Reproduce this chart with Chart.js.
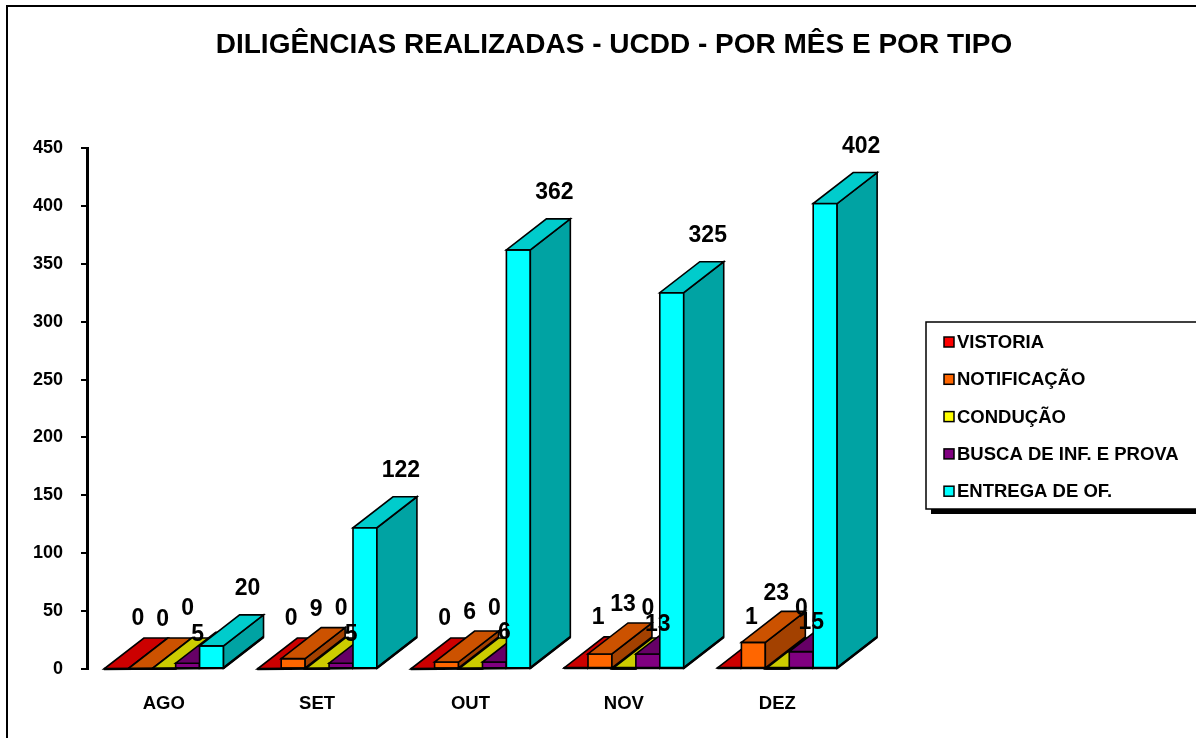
<!DOCTYPE html>
<html>
<head>
<meta charset="utf-8">
<script src="https://cdn.jsdelivr.net/npm/chart.js@4/dist/chart.umd.min.js"></script>
<style>
  html, body { margin: 0; padding: 0; background: #ffffff; }
  #wrap { width: 1196px; height: 738px; position: relative; }
</style>
</head>
<body>
<div id="wrap"><canvas id="c" width="1196" height="738"></canvas></div>
<script>
// ---- data ----
const categories = ['AGO', 'SET', 'OUT', 'NOV', 'DEZ'];
const seriesNames = ['VISTORIA', 'NOTIFICAÇÃO', 'CONDUÇÃO', 'BUSCA DE INF. E PROVA', 'ENTREGA DE OF.'];
const vistoria = [0, 0, 0, 1, 1];
const notificacao = [0, 9, 6, 13, 23];
const conducao = [0, 0, 0, 0, 0];
const busca = [5, 5, 6, 13, 15];
const entrega = [20, 122, 362, 325, 402];
const yMin = 0, yMax = 450, yStep = 50;
const titleText = 'DILIGÊNCIAS REALIZADAS - UCDD - POR MÊS E POR TIPO';

// ---- styles ----
const FONT = "'Liberation Sans', Arial, Helvetica, sans-serif";
const styles = [
  { front: '#FF0000', top: '#CC0000', side: '#990000', lab: [22, -50] },
  { front: '#FF6600', top: '#CC5200', side: '#A34100', lab: [23, -49] },
  { front: '#FFFF00', top: '#CCCC00', side: '#999900', lab: [24, -60] },
  { front: '#800080', top: '#660066', side: '#4D004D', lab: [10, -29] },
  { front: '#00FFFF', top: '#00CCCC', side: '#00A3A3', lab: [36, -57] }
];
const seriesValues = [vistoria, notificacao, conducao, busca, entrega];
const DX = 40, DY = -31;

const datasets = seriesNames.map((name, i) => ({
  label: name,
  data: seriesValues[i],
  backgroundColor: styles[i].front,
  borderColor: '#000000',
  borderWidth: 0,
  yAxisID: 'y'
}));

const frame = {
  id: 'frame',
  beforeDraw(chart) {
    const ctx = chart.ctx;
    ctx.save();
    ctx.fillStyle = '#ffffff';
    ctx.fillRect(0, 0, chart.width, chart.height);
    ctx.strokeStyle = '#000000';
    ctx.lineWidth = 2;
    ctx.strokeRect(7, 6, chart.width + 50, chart.height + 50);
    ctx.restore();
  }
};

const bars3d = {
  id: 'bars3d',
  beforeDatasetDraw() { return false; },
  afterDatasetsDraw(chart) {
    const ctx = chart.ctx;
    ctx.save();
    ctx.lineJoin = 'miter';
    ctx.strokeStyle = '#000000';
    ctx.lineWidth = 1.6;
    const n = chart.data.labels.length;
    for (let j = 0; j < n; j++) {
      chart.data.datasets.forEach((ds, i) => {
        const el = chart.getDatasetMeta(i).data[j];
        const st = styles[i];
        const w = el.width, l = el.x - w / 2, r = el.x + w / 2;
        const t = el.y, b = el.base;
        ctx.fillStyle = st.front;
        ctx.beginPath();
        ctx.rect(l, t, w, b - t);
        ctx.fill(); ctx.stroke();
        ctx.fillStyle = st.side;
        ctx.beginPath();
        ctx.moveTo(r, t); ctx.lineTo(r + DX, t + DY); ctx.lineTo(r + DX, b + DY); ctx.lineTo(r, b); ctx.closePath();
        ctx.fill(); ctx.stroke();
        ctx.fillStyle = st.top;
        ctx.beginPath();
        ctx.moveTo(l, t); ctx.lineTo(r, t); ctx.lineTo(r + DX, t + DY); ctx.lineTo(l + DX, t + DY); ctx.closePath();
        ctx.fill(); ctx.stroke();
      });
      const first = chart.getDatasetMeta(0).data[j];
      const last = chart.getDatasetMeta(chart.data.datasets.length - 1).data[j];
      ctx.lineWidth = 2.5;
      ctx.beginPath();
      ctx.moveTo(first.x - first.width / 2, first.base);
      ctx.lineTo(last.x + last.width / 2, last.base);
      ctx.lineTo(last.x + last.width / 2 + DX, last.base + DY);
      ctx.stroke();
      ctx.lineWidth = 1.6;
    }
    ctx.fillStyle = '#000000';
    ctx.font = 'bold 23px ' + FONT;
    ctx.textAlign = 'center';
    ctx.textBaseline = 'middle';
    chart.data.datasets.forEach((ds, i) => {
      chart.getDatasetMeta(i).data.forEach((el, j) => {
        ctx.fillText(String(ds.data[j]), el.x + styles[i].lab[0], el.y + styles[i].lab[1]);
      });
    });
    ctx.restore();
  }
};

const boxLegend = {
  id: 'boxLegend',
  afterDraw(chart) {
    const ctx = chart.ctx;
    const x0 = 926, y0 = 322, h = 187, wBox = 300;
    ctx.save();
    ctx.fillStyle = '#000000';
    ctx.fillRect(x0 + 5, y0 + 5, wBox, h);
    ctx.fillStyle = '#ffffff';
    ctx.fillRect(x0, y0, wBox, h);
    ctx.strokeStyle = '#000000';
    ctx.lineWidth = 1.5;
    ctx.strokeRect(x0, y0, wBox, h);
    ctx.font = 'bold 18.5px ' + FONT;
    ctx.textAlign = 'left';
    ctx.textBaseline = 'middle';
    chart.data.datasets.forEach((ds, i) => {
      const cy = 342 + i * 37.3;
      ctx.fillStyle = ds.backgroundColor;
      ctx.fillRect(944, cy - 5, 10, 10);
      ctx.lineWidth = 1.5;
      ctx.strokeRect(944, cy - 5, 10, 10);
      ctx.fillStyle = '#000000';
      ctx.fillText(ds.label, 957, cy + 1);
    });
    ctx.restore();
  }
};

new Chart(document.getElementById('c'), {
  type: 'bar',
  data: { labels: categories, datasets: datasets },
  options: {
    responsive: false,
    animation: false,
    devicePixelRatio: 1,
    layout: { padding: { left: 32, right: 0, top: 0, bottom: 0 } },
    datasets: { bar: { categoryPercentage: 0.78, barPercentage: 1.0 } },
    plugins: {
      legend: { display: false },
      tooltip: { enabled: false },
      title: {
        display: true,
        text: titleText,
        color: '#000000',
        font: { family: FONT, size: 28, weight: 'bold' },
        padding: { top: 28.2, bottom: 86.2 }
      }
    },
    scales: {
      x: {
        grid: { display: false },
        border: { display: false },
        ticks: { color: '#000000', font: { family: FONT, size: 18.5, weight: 'bold' }, padding: 16 },
        afterFit(scale) { scale.height = 69; }
      },
      y: {
        position: 'left',
        min: yMin, max: yMax,
        grid: { drawOnChartArea: false, drawTicks: true, tickLength: 6, color: '#000000', lineWidth: 2 },
        border: { display: true, color: '#000000', width: 3 },
        ticks: { stepSize: yStep, color: '#000000', font: { family: FONT, size: 18, weight: 'bold' }, padding: 18 },
        afterFit(scale) { scale.width = 55; }
      },
      legendSpace: {
        position: 'right',
        display: true,
        grid: { display: false, drawTicks: false },
        border: { display: false },
        ticks: { display: false },
        afterFit(scale) { scale.width = 342; }
      }
    }
  },
  plugins: [frame, bars3d, boxLegend]
});
</script>
</body>
</html>
